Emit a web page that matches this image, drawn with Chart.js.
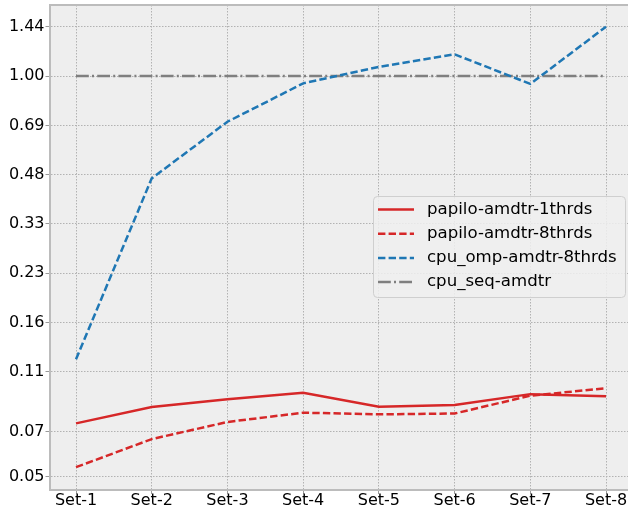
<!DOCTYPE html>
<html>
<head>
<meta charset="utf-8">
<script src="https://cdn.jsdelivr.net/npm/chart.js@4/dist/chart.umd.min.js"></script>
<style>
  body { margin: 0; background: #fff; }
  canvas { display: block; }
</style>
</head>
<body>
<canvas id="speedup" width="628" height="508"></canvas>
<script>
const categories = ['Set-1', 'Set-2', 'Set-3', 'Set-4', 'Set-5', 'Set-6', 'Set-7', 'Set-8'];
const papilo1 = [0.0766, 0.0865, 0.0916, 0.0961, 0.0866, 0.0878, 0.0951, 0.0937];
const papilo8 = [0.0554, 0.0682, 0.0774, 0.0829, 0.0819, 0.0824, 0.0940, 0.0993];
const cpuOmp8 = [0.123, 0.469, 0.713, 0.947, 1.07, 1.174, 0.943, 1.44];
const cpuSeq = [1, 1, 1, 1, 1, 1, 1, 1];
const tickValues = [0.0516, 0.072, 0.1122, 0.1615, 0.2326, 0.335, 0.482, 0.694, 1.0, 1.44];
const tickLabels = ['0.05', '0.07', '0.11', '0.16', '0.23', '0.33', '0.48', '0.69', '1.00', '1.44'];

const font = { family: 'DejaVu Sans', size: 16 };
const pts = arr => arr.map((v, i) => ({ x: i, y: v }));

const series = [
    { label: 'papilo-amdtr-1thrds', data: papilo1, color: '#d62728', dash: [] },
    { label: 'papilo-amdtr-8thrds', data: papilo8, color: '#d62728', dash: [7.4, 3.2] },
    { label: 'cpu_omp-amdtr-8thrds', data: cpuOmp8, color: '#1f77b4', dash: [7.4, 3.2] },
    { label: 'cpu_seq-amdtr', data: cpuSeq, color: '#7f7f7f', dash: [12.8, 3.2, 2, 3.2] }
];

const frame = {
    id: 'frame',
    beforeDraw(chart) {
        const { ctx, chartArea: a } = chart;
        ctx.save();
        ctx.fillStyle = '#eeeeee';
        ctx.fillRect(a.left, a.top, a.right - a.left, a.bottom - a.top);
        ctx.restore();
    },
    afterDraw(chart) {
        const { ctx, chartArea: a } = chart;
        ctx.save();
        ctx.strokeStyle = '#bcbcbc';
        ctx.lineWidth = 2;
        ctx.beginPath();
        ctx.moveTo(a.left, a.top);
        ctx.lineTo(a.right, a.top);
        ctx.stroke();

        // legend box inside the axes
        const x0 = 373, y0 = 196, w = 252, h = 101;
        ctx.fillStyle = 'rgba(238,238,238,0.85)';
        ctx.strokeStyle = '#cfcfcf';
        ctx.lineWidth = 1;
        ctx.beginPath();
        ctx.roundRect(x0 + 0.5, y0 + 0.5, w, h, 4);
        ctx.fill();
        ctx.stroke();
        ctx.font = '16.6px "DejaVu Sans"';
        ctx.textBaseline = 'middle';
        series.forEach((s, i) => {
            const y = 209.5 + i * 24.2;
            ctx.strokeStyle = s.color;
            ctx.lineWidth = 2.5;
            ctx.setLineDash(s.dash);
            ctx.beginPath();
            ctx.moveTo(378, y);
            ctx.lineTo(414, y);
            ctx.stroke();
            ctx.setLineDash([]);
            ctx.fillStyle = '#000';
            ctx.fillText(s.label, 427, y);
        });
        ctx.restore();
    }
};

const gridOpts = {
    color: '#b2b2b2',
    tickLength: 4,
    tickColor: '#999',
    tickBorderDash: []
};

new Chart(document.getElementById('speedup'), {
    type: 'line',
    data: {
        datasets: series.map(s => ({
            label: s.label,
            data: pts(s.data),
            borderColor: s.color,
            borderDash: s.dash,
            borderWidth: 2.5,
            pointRadius: 0,
            tension: 0,
            fill: false
        }))
    },
    options: {
        responsive: false,
        animation: false,
        layout: { padding: { left: 0, right: 0, top: 5, bottom: 0 } },
        plugins: {
            legend: { display: false },
            tooltip: { enabled: false }
        },
        scales: {
            x: {
                type: 'linear',
                min: -0.35,
                max: 7.29,
                afterFit: s => { s.height = 18; s.paddingLeft = 0; s.paddingRight = 0; },
                afterBuildTicks: s => { s.ticks = categories.map((c, i) => ({ value: i })); },
                ticks: {
                    font: font,
                    color: '#000',
                    padding: -3,
                    maxRotation: 0,
                    callback: (v, i) => categories[i]
                },
                grid: gridOpts,
                border: { color: '#bcbcbc', width: 2, dash: [1.5, 1.5] }
            },
            y: {
                type: 'logarithmic',
                min: 0.0468,
                max: 1.6907,
                afterFit: s => { s.width = 49.5; s.paddingTop = 0; s.paddingBottom = 0; },
                afterBuildTicks: s => { s.ticks = tickValues.map(v => ({ value: v })); },
                ticks: {
                    font: font,
                    color: '#000',
                    padding: 1,
                    callback: (v, i) => tickLabels[i]
                },
                grid: gridOpts,
                border: { color: '#bcbcbc', width: 2, dash: [1.5, 1.5] }
            }
        }
    },
    plugins: [frame]
});
</script>
</body>
</html>
